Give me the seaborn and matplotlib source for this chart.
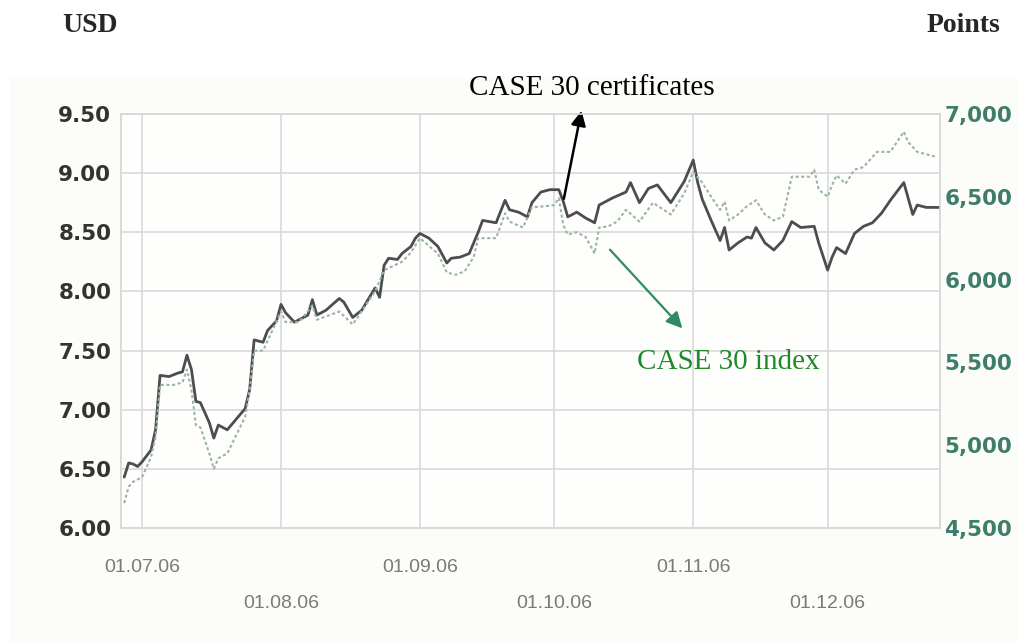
import pandas as pd
import matplotlib.pyplot as plt
import matplotlib.dates as mdates
from matplotlib.patches import Rectangle
import seaborn as sns

# CASE 30 certificates, USD (left axis)
cert_days = ["06-27", "06-28", "06-29", "06-30", "07-01", "07-03", "07-04", "07-05",
             "07-07", "07-09", "07-10", "07-11", "07-12", "07-13", "07-14", "07-16",
             "07-17", "07-18", "07-20", "07-24", "07-25", "07-26", "07-28", "07-29",
             "07-31", "08-01", "08-02", "08-04", "08-06", "08-07", "08-08", "08-09",
             "08-11", "08-14", "08-15", "08-17", "08-19", "08-22", "08-23", "08-24",
             "08-25", "08-27", "08-28", "08-29", "08-30", "08-31", "09-01", "09-03",
             "09-05", "09-06", "09-07", "09-08", "09-10", "09-12", "09-14", "09-15",
             "09-18", "09-20", "09-21", "09-23", "09-25", "09-26", "09-28", "09-30",
             "10-02", "10-03", "10-04", "10-06", "10-08", "10-10", "10-11", "10-14",
             "10-17", "10-18", "10-20", "10-22", "10-24", "10-27", "10-30", "11-01",
             "11-02", "11-03", "11-05", "11-07", "11-08", "11-09", "11-11", "11-13",
             "11-14", "11-15", "11-17", "11-19", "11-21", "11-23", "11-25", "11-28",
             "11-29", "12-01", "12-02", "12-03", "12-05", "12-07", "12-09", "12-11",
             "12-13", "12-15", "12-18", "12-20", "12-21", "12-23", "12-26"]
cert_usd = [6.43, 6.55, 6.54, 6.52, 6.56, 6.66, 6.83, 7.29,
            7.28, 7.31, 7.32, 7.46, 7.34, 7.07, 7.06, 6.89,
            6.76, 6.87, 6.83, 7.01, 7.17, 7.59, 7.57, 7.67,
            7.75, 7.89, 7.82, 7.74, 7.78, 7.80, 7.93, 7.80,
            7.84, 7.94, 7.91, 7.78, 7.84, 8.03, 7.95, 8.22,
            8.28, 8.27, 8.32, 8.35, 8.38, 8.45, 8.49, 8.45,
            8.38, 8.31, 8.24, 8.28, 8.29, 8.32, 8.50, 8.60,
            8.58, 8.77, 8.69, 8.67, 8.63, 8.75, 8.84, 8.86,
            8.86, 8.76, 8.63, 8.67, 8.62, 8.58, 8.73, 8.79,
            8.84, 8.92, 8.75, 8.87, 8.90, 8.75, 8.93, 9.11,
            8.92, 8.78, 8.60, 8.43, 8.54, 8.35, 8.41, 8.46,
            8.45, 8.54, 8.41, 8.35, 8.43, 8.59, 8.54, 8.55,
            8.41, 8.18, 8.29, 8.37, 8.32, 8.49, 8.55, 8.58,
            8.66, 8.77, 8.92, 8.65, 8.73, 8.71, 8.71]

# CASE 30 index, points (right axis)
index_days = ["06-27", "06-28", "06-29", "07-01", "07-03", "07-04", "07-05", "07-08",
              "07-10", "07-11", "07-12", "07-13", "07-14", "07-16", "07-17", "07-18",
              "07-20", "07-24", "07-25", "07-26", "07-28", "08-01", "08-02", "08-05",
              "08-08", "08-09", "08-14", "08-17", "08-22", "08-24", "08-28", "08-30",
              "09-01", "09-05", "09-07", "09-09", "09-11", "09-13", "09-14", "09-18",
              "09-20", "09-21", "09-24", "09-26", "09-29", "10-01", "10-02", "10-03",
              "10-04", "10-06", "10-08", "10-10", "10-11", "10-13", "10-15", "10-17",
              "10-20", "10-23", "10-27", "10-30", "11-01", "11-03", "11-05", "11-07",
              "11-08", "11-09", "11-11", "11-13", "11-15", "11-17", "11-19", "11-21",
              "11-23", "11-27", "11-28", "11-29", "12-01", "12-02", "12-03", "12-05",
              "12-07", "12-09", "12-12", "12-15", "12-18", "12-19", "12-21", "12-22",
              "12-25"]
index_pts = [4650, 4750, 4779, 4807, 4929, 5050, 5364, 5364,
             5379, 5457, 5336, 5121, 5107, 4950, 4857, 4921,
             4950, 5171, 5336, 5571, 5571, 5807, 5743, 5743,
             5843, 5757, 5807, 5729, 5929, 6057, 6107, 6164,
             6250, 6157, 6043, 6029, 6050, 6136, 6250, 6250,
             6400, 6350, 6314, 6436, 6443, 6450, 6493, 6329,
             6271, 6286, 6257, 6157, 6314, 6321, 6350, 6421,
             6350, 6464, 6393, 6521, 6650, 6586, 6500, 6421,
             6471, 6357, 6393, 6443, 6479, 6393, 6357, 6379,
             6621, 6621, 6664, 6543, 6500, 6571, 6629, 6579,
             6664, 6679, 6771, 6771, 6893, 6829, 6771, 6764,
             6743]

usd_ticks = [6.0, 6.5, 7.0, 7.5, 8.0, 8.5, 9.0, 9.5]
pts_ticks = [4500, 5000, 5500, 6000, 6500, 7000]
month_starts = ["2006-07-01", "2006-08-01", "2006-09-01", "2006-10-01", "2006-11-01", "2006-12-01"]
month_labels = ["01.07.06", "01.08.06", "01.09.06", "01.10.06", "01.11.06", "01.12.06"]

cert = pd.DataFrame({"date": pd.to_datetime(["2006-" + d for d in cert_days]), "usd": cert_usd})
idx = pd.DataFrame({"date": pd.to_datetime(["2006-" + d for d in index_days]), "pts": index_pts})
months = pd.to_datetime(month_starts)

sns.set_style("white")
grid_col = "#d9d9d9"

fig = plt.figure(figsize=(10.18, 6.42), dpi=100)
fig.add_artist(Rectangle((0.01, 0.0), 0.99, 0.88, transform=fig.transFigure,
                         facecolor="#fcfcf8", edgecolor="none", zorder=-10))
ax = fig.add_axes([0.1189, 0.1776, 0.8045, 0.6449])
ax.set_facecolor("#fefefd")
ax2 = ax.twinx()

sns.lineplot(data=idx, x="date", y="pts", ax=ax2, color="#9ab5a8", lw=1.5,
             linestyle=(0, (1.5, 1.2)))
sns.lineplot(data=cert, x="date", y="usd", ax=ax, color="#4d4d4d", lw=2.0, zorder=3)

ax.set_xlim(pd.Timestamp("2006-06-26 07:00"), pd.Timestamp("2006-12-26 02:00"))
ax.set_ylim(6.0, 9.5)
ax2.set_ylim(4500, 7000)

ax.set_yticks(usd_ticks, [f"{v:.2f}" for v in usd_ticks])
ax2.set_yticks(pts_ticks, [f"{v:,}" for v in pts_ticks])
ax.set_xticks(months[::2], month_labels[::2])
ax.set_xticks(months[1::2], month_labels[1::2], minor=True)

ax.grid(True, which="both", color=grid_col, lw=1.2)
ax.set_axisbelow(True)
ax2.grid(False)
for a in (ax, ax2):
    for s in a.spines.values():
        s.set_color(grid_col)
        s.set_linewidth(1.2)
    a.set_xlabel("")
    a.set_ylabel("")

ax.tick_params(axis="y", length=0, pad=7, labelsize=15.5, labelcolor="#333333")
ax2.tick_params(axis="y", length=0, pad=3, labelsize=15.5, labelcolor="#3e7d6b")
for lab in ax.get_yticklabels() + ax2.get_yticklabels():
    lab.set_fontweight("bold")
ax.tick_params(axis="x", which="major", length=0, pad=22, labelsize=14, labelcolor="#7a7a7a")
ax.tick_params(axis="x", which="minor", length=0, pad=48, labelsize=14, labelcolor="#7a7a7a")
for lab in ax.get_xticklabels(which="both"):
    lab.set_fontfamily("Liberation Sans")

# axis headers
fig.text(62 / 1018, 1 - 25 / 642, "USD", family="Liberation Serif", fontweight="bold",
         fontsize=20, ha="left", va="center")
fig.text(1000 / 1018, 1 - 25 / 642, "Points", family="Liberation Serif", fontweight="bold",
         fontsize=20, ha="right", va="center")

# callouts
fig.text(592 / 1018, 1 - 88 / 642, "CASE 30 certificates", family="Liberation Serif",
         fontsize=21, ha="center", va="center", color="black")
ax.annotate("", xy=(582, 642 - 108), xycoords="figure pixels",
            xytext=(pd.Timestamp("2006-10-03"), 8.76), textcoords="data",
            arrowprops=dict(arrowstyle="-|>", color="black", lw=1.8, mutation_scale=22),
            annotation_clip=False)

fig.text(728 / 1018, 1 - 362 / 642, "CASE 30 index", family="Liberation Serif",
         fontsize=21, ha="center", va="center", color="#1f8a2a")
ax.annotate("", xy=(pd.Timestamp("2006-10-30"), 7.67), xycoords="data",
            xytext=(pd.Timestamp("2006-10-13"), 8.37), textcoords="data",
            arrowprops=dict(arrowstyle="-|>", color="#2e8b62", lw=1.6, mutation_scale=24),
            annotation_clip=False)

fig.savefig("out.png", dpi=100)
